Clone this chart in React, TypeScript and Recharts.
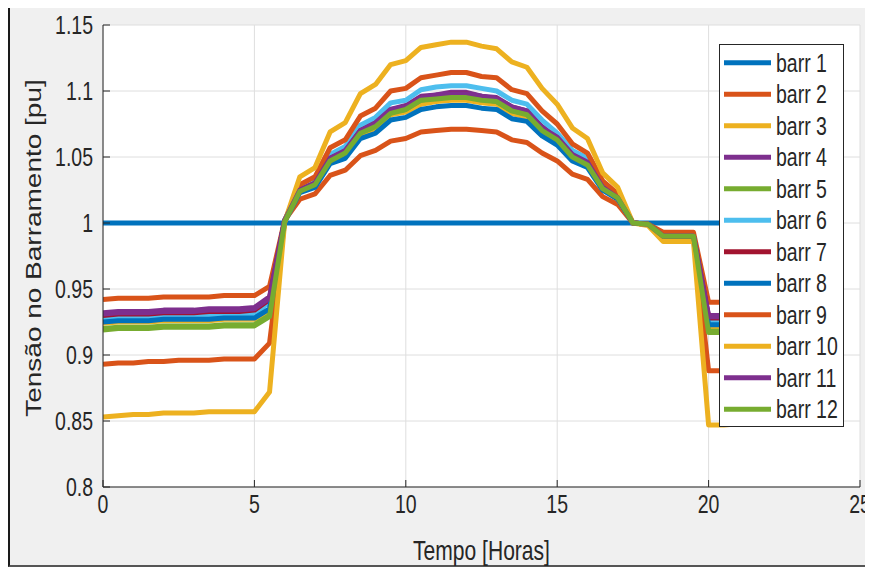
import React from "react";
import { LineChart, Line, XAxis, YAxis, CartesianGrid } from "recharts";

// tempo em horas (passo de 0.5 h)
const hours = [
  0, 0.5, 1, 1.5, 2, 2.5, 3, 3.5, 4, 4.5, 5, 5.5, 6, 6.5, 7, 7.5, 8, 8.5, 9, 9.5,
  10, 10.5, 11, 11.5, 12, 12.5, 13, 13.5, 14, 14.5, 15, 15.5, 16, 16.5, 17, 17.5,
  18, 18.5, 19, 19.5, 20, 20.5, 21, 21.5, 22, 22.5, 23, 23.5, 24,
];

const barr1 = [
  1, 1, 1, 1, 1, 1, 1, 1, 1, 1, 1, 1, 1, 1, 1, 1, 1, 1, 1, 1, 1, 1, 1, 1, 1,
  1, 1, 1, 1, 1, 1, 1, 1, 1, 1, 1, 1, 1, 1, 1, 1, 1, 1, 1, 1, 1, 1, 1, 1,
];
const barr2 = [
  0.942, 0.943, 0.943, 0.943, 0.944, 0.944, 0.944, 0.944, 0.945, 0.945, 0.945,
  0.952, 1.002,
  1.018, 1.022, 1.036, 1.04, 1.051, 1.055, 1.062, 1.064, 1.069, 1.07, 1.071,
  1.071, 1.07, 1.069, 1.063, 1.061, 1.053, 1.047, 1.037, 1.033, 1.02, 1.014,
  1.0, 0.999, 0.993, 0.993, 0.993,
  0.94, 0.94, 0.94, 0.941, 0.941, 0.941, 0.942, 0.942, 0.942,
];
const barr3 = [
  0.924, 0.925, 0.925, 0.925, 0.926, 0.926, 0.926, 0.926, 0.927, 0.927, 0.927,
  0.933, 1.001,
  1.024, 1.029, 1.047, 1.052, 1.067, 1.071, 1.082, 1.084, 1.09, 1.092, 1.093,
  1.093, 1.091, 1.09, 1.083, 1.08, 1.069, 1.061, 1.049, 1.044, 1.026, 1.018,
  1.0, 0.999, 0.989, 0.989, 0.989,
  0.921, 0.921, 0.921, 0.922, 0.922, 0.922, 0.923, 0.923, 0.923,
];
const barr4 = [
  0.932, 0.933, 0.933, 0.933, 0.934, 0.934, 0.934, 0.935, 0.935, 0.935, 0.936,
  0.944, 1.002,
  1.025, 1.03, 1.05, 1.055, 1.071, 1.076, 1.086, 1.089, 1.096, 1.097, 1.099,
  1.099, 1.096, 1.095, 1.088, 1.085, 1.073, 1.065, 1.052, 1.046, 1.027, 1.019,
  1.0, 0.999, 0.99, 0.99, 0.99,
  0.93, 0.93, 0.93, 0.931, 0.931, 0.931, 0.932, 0.932, 0.932,
];
const barr5 = [
  0.92, 0.921, 0.921, 0.921, 0.922, 0.922, 0.922, 0.922, 0.923, 0.923, 0.923,
  0.93, 1.001,
  1.025, 1.029, 1.048, 1.053, 1.069, 1.074, 1.084, 1.086, 1.093, 1.095, 1.096,
  1.096, 1.094, 1.092, 1.085, 1.083, 1.071, 1.063, 1.05, 1.045, 1.027, 1.019,
  1.0, 0.999, 0.99, 0.99, 0.99,
  0.918, 0.918, 0.918, 0.919, 0.919, 0.919, 0.92, 0.92, 0.92,
];
const barr6 = [
  0.928, 0.929, 0.929, 0.929, 0.93, 0.93, 0.93, 0.93, 0.931, 0.931, 0.931,
  0.94, 1.002,
  1.027, 1.032, 1.052, 1.058, 1.074, 1.08, 1.091, 1.093, 1.101, 1.103, 1.104,
  1.104, 1.102, 1.1, 1.093, 1.09, 1.078, 1.068, 1.055, 1.049, 1.029, 1.021,
  1.0, 0.999, 0.99, 0.99, 0.99,
  0.926, 0.926, 0.926, 0.927, 0.927, 0.927, 0.928, 0.928, 0.928,
];
const barr7 = [
  0.93, 0.931, 0.931, 0.931, 0.932, 0.932, 0.932, 0.933, 0.933, 0.933, 0.934,
  0.942, 1.002,
  1.025, 1.03, 1.049, 1.054, 1.07, 1.075, 1.085, 1.088, 1.095, 1.096, 1.098,
  1.098, 1.095, 1.094, 1.087, 1.084, 1.072, 1.064, 1.051, 1.045, 1.027, 1.019,
  1.0, 0.999, 0.99, 0.99, 0.99,
  0.928, 0.928, 0.928, 0.929, 0.929, 0.929, 0.93, 0.93, 0.93,
];
const barr8 = [
  0.925, 0.926, 0.926, 0.926, 0.927, 0.927, 0.927, 0.927, 0.928, 0.928, 0.928,
  0.935, 1.001,
  1.023, 1.027, 1.045, 1.049, 1.064, 1.068, 1.078, 1.08, 1.086, 1.088, 1.089,
  1.089, 1.087, 1.086, 1.079, 1.077, 1.066, 1.059, 1.047, 1.042, 1.025, 1.018,
  1.0, 0.999, 0.989, 0.989, 0.989,
  0.923, 0.923, 0.923, 0.924, 0.924, 0.924, 0.925, 0.925, 0.925,
];
const barr9 = [
  0.893, 0.894, 0.894, 0.895, 0.895, 0.896, 0.896, 0.896, 0.897, 0.897, 0.897,
  0.909, 1.001,
  1.029, 1.035, 1.057, 1.063, 1.081, 1.087, 1.1, 1.102, 1.11, 1.112, 1.114,
  1.114, 1.111, 1.11, 1.101, 1.098, 1.085, 1.075, 1.06, 1.053, 1.032, 1.022,
  1.0, 0.999, 0.99, 0.99, 0.99,
  0.888, 0.888, 0.889, 0.889, 0.89, 0.89, 0.891, 0.891, 0.892,
];
const barr10 = [
  0.853, 0.854, 0.855, 0.855, 0.856, 0.856, 0.856, 0.857, 0.857, 0.857, 0.857,
  0.872, 1.001,
  1.035, 1.042, 1.069, 1.076, 1.098, 1.105, 1.12, 1.123, 1.133, 1.135, 1.137,
  1.137, 1.134, 1.132, 1.122, 1.118, 1.102, 1.09, 1.072, 1.064, 1.038, 1.027,
  1.0, 0.998, 0.986, 0.986, 0.986,
  0.847, 0.847, 0.848, 0.849, 0.85, 0.851, 0.852, 0.853, 0.853,
];
const barr11 = [
  0.931, 0.932, 0.932, 0.932, 0.933, 0.933, 0.933, 0.934, 0.934, 0.934, 0.935,
  0.943, 1.002,
  1.025, 1.03, 1.049, 1.055, 1.07, 1.076, 1.086, 1.088, 1.095, 1.097, 1.098,
  1.098, 1.096, 1.094, 1.088, 1.085, 1.072, 1.065, 1.052, 1.046, 1.027, 1.019,
  1.0, 0.999, 0.99, 0.99, 0.99,
  0.929, 0.929, 0.929, 0.93, 0.93, 0.93, 0.931, 0.931, 0.931,
];
const barr12 = [
  0.919, 0.92, 0.92, 0.92, 0.921, 0.921, 0.921, 0.921, 0.922, 0.922, 0.922,
  0.929, 1.001,
  1.024, 1.029, 1.047, 1.053, 1.068, 1.073, 1.083, 1.086, 1.093, 1.094, 1.095,
  1.095, 1.093, 1.092, 1.085, 1.082, 1.07, 1.063, 1.05, 1.044, 1.026, 1.019,
  1.0, 0.999, 0.99, 0.99, 0.99,
  0.917, 0.917, 0.917, 0.918, 0.918, 0.918, 0.919, 0.919, 0.919,
];

const seriesNames = [
  "barr 1", "barr 2", "barr 3", "barr 4", "barr 5", "barr 6",
  "barr 7", "barr 8", "barr 9", "barr 10", "barr 11", "barr 12",
];
const seriesValues = [
  barr1, barr2, barr3, barr4, barr5, barr6,
  barr7, barr8, barr9, barr10, barr11, barr12,
];
// cores padrão do MATLAB
const colors = [
  "#0072BD", "#D95319", "#EDB120", "#7E2F8E", "#77AC30", "#4DBEEE",
  "#A2142F", "#0072BD", "#D95319", "#EDB120", "#7E2F8E", "#77AC30",
];

const xTicks = [0, 5, 10, 15, 20, 25];
const yTicks = [0.8, 0.85, 0.9, 0.95, 1, 1.05, 1.1, 1.15];

const data = hours.map((t, i) => {
  const row: Record<string, number> = { t };
  seriesValues.forEach((s, k) => {
    row["b" + (k + 1)] = s[i];
  });
  return row;
});

const FONT = "'Liberation Sans', Arial, sans-serif";
const SQ = 0.78; // a figura original está comprimida na horizontal
const TXT = "#262626";

function XTick(props: any) {
  const { x, y, payload } = props;
  return (
    <text
      transform={`translate(${x},${y + 26}) scale(${SQ},1)`}
      textAnchor="middle"
      fontSize={25}
      fontFamily={FONT}
      fill={TXT}
    >
      {String(payload.value)}
    </text>
  );
}

function YTick(props: any) {
  const { x, y, payload } = props;
  return (
    <text
      transform={`translate(${x - 10},${y + 9}) scale(${SQ},1)`}
      textAnchor="end"
      fontSize={25}
      fontFamily={FONT}
      fill={TXT}
    >
      {String(payload.value)}
    </text>
  );
}

const yTitle = () => (
  <text
    transform={`translate(41,248) scale(${SQ},1) rotate(-90)`}
    textAnchor="middle"
    fontSize={28}
    fontFamily={FONT}
    fill={TXT}
  >
    Tensão no Barramento [pu]
  </text>
);

const xTitle = () => (
  <text
    transform={`translate(481.5,560) scale(${SQ},1)`}
    textAnchor="middle"
    fontSize={27}
    fontFamily={FONT}
    fill={TXT}
  >
    Tempo [Horas]
  </text>
);

function LegendBox() {
  return (
    <div
      style={{
        position: "absolute",
        left: 719,
        top: 44,
        width: 125,
        height: 383,
        boxSizing: "border-box",
        border: "1px solid #262626",
        background: "#fff",
      }}
    >
      <svg width={123} height={381} style={{ display: "block" }}>
        {seriesNames.map((name, i) => {
          const cy = 17.7 + 31.5 * i;
          return (
            <g key={name}>
              <line x1={4} x2={51} y1={cy} y2={cy} stroke={colors[i]} strokeWidth={5} />
              <text
                transform={`translate(56,${cy + 9}) scale(${SQ},1)`}
                fontSize={25}
                fontFamily={FONT}
                fill={TXT}
              >
                {name}
              </text>
            </g>
          );
        })}
      </svg>
    </div>
  );
}

export default function App() {
  return (
    <div
      style={{
        position: "relative",
        width: 873,
        height: 568,
        margin: "-8px 0 0 -8px",
        background: "#fff",
        overflow: "hidden",
      }}
    >
      <div
        style={{
          position: "absolute",
          left: 8,
          top: 6,
          width: 865,
          height: 561,
          boxSizing: "border-box",
          background: "#f0f0f0",
          borderLeft: "2px solid #1a1a1a",
          borderTop: "2px solid #1a1a1a",
          borderBottom: "2px solid #555",
        }}
      />
      <div style={{ position: "absolute", left: 0, top: 0 }}>
        <LineChart
          width={873}
          height={568}
          data={data}
          margin={{ top: 25, right: 13, left: 43, bottom: 21 }}
        >
          <CartesianGrid stroke="#dedede" fill="#ffffff" fillOpacity={1} />
          <XAxis
            dataKey="t"
            type="number"
            domain={[0, 25]}
            ticks={xTicks}
            allowDataOverflow
            height={60}
            tickSize={-7}
            tickMargin={7}
            tick={<XTick />}
            stroke={TXT}
            label={{ content: xTitle }}
          />
          <XAxis
            xAxisId="top"
            orientation="top"
            type="number"
            domain={[0, 25]}
            ticks={xTicks}
            height={0}
            tickSize={-7}
            tick={false}
            stroke={TXT}
          />
          <YAxis
            type="number"
            domain={[0.8, 1.15]}
            ticks={yTicks}
            allowDataOverflow
            width={60}
            tickSize={-7}
            tickMargin={7}
            tick={<YTick />}
            stroke={TXT}
            label={{ content: yTitle }}
          />
          <YAxis
            yAxisId="right"
            orientation="right"
            type="number"
            domain={[0.8, 1.15]}
            ticks={yTicks}
            width={0}
            tickSize={-7}
            tick={false}
            stroke={TXT}
          />
          {seriesNames.map((name, k) => (
            <Line
              key={name}
              type="linear"
              dataKey={"b" + (k + 1)}
              name={name}
              stroke={colors[k]}
              strokeWidth={5}
              strokeLinejoin="round"
              dot={false}
              activeDot={false}
              isAnimationActive={false}
            />
          ))}
        </LineChart>
      </div>
      <LegendBox />
    </div>
  );
}
